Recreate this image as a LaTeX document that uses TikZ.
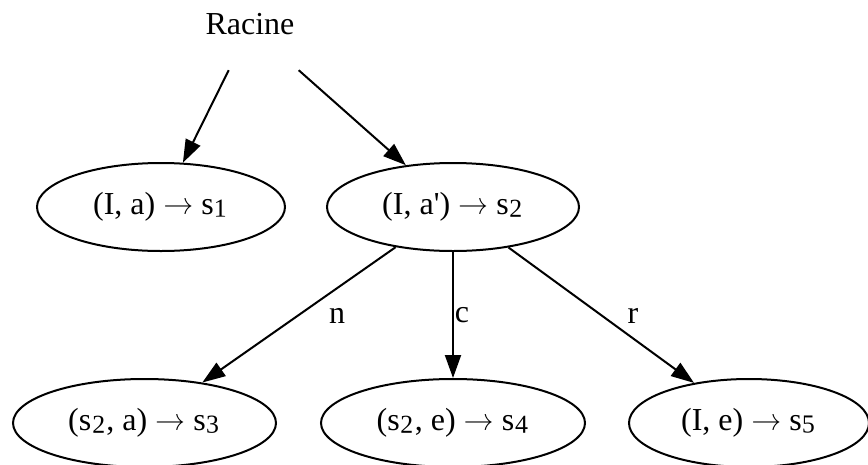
\documentclass[tikz,border=0pt]{standalone}
\usepackage{graphicx}
\usepackage{fontspec}
\setmainfont{Liberation Serif}[Ligatures=TeXOff]
\newfontfamily\lmarrowfont{Latin Modern Roman}
\newcommand{\arr}{{\lmarrowfont →}}
\newcommand{\subd}[1]{\raisebox{0.2em}{\scalebox{1.35}{#1}}}
\usetikzlibrary{shapes.geometric,arrows.meta}
\begin{document}
\begin{tikzpicture}[x=1pt,y=-1pt,
  every node/.style={font=\fontsize{32}{38}\selectfont},
  st/.style={ellipse, draw, line width=2pt, inner sep=0pt, minimum height=88pt},
  conn/.style={line width=2pt, -{Triangle[length=23pt,width=16pt]}},
  lbl/.style={inner sep=0pt}]
\useasboundingbox (0,0) rectangle (868,464);
\clip (0,0) rectangle (868,464);
\node[minimum width=136pt, minimum height=86pt, inner sep=0pt, text depth=6pt] (root) at (250,27) {Racine};
\node[st, minimum width=248pt] (n1) at (161,207) {(I, a) \arr{} s\subd{₁}};
\node[st, minimum width=252pt] (n2) at (453,207) {(I, a') \arr{} s\subd{₂}};
\node[st, minimum width=263pt] (n3) at (144.5,423) {(s\subd{₂}, a) \arr{} s\subd{₃}};
\node[st, minimum width=264pt] (n4) at (453,423) {(s\subd{₂}, e) \arr{} s\subd{₄}};
\node[st, minimum width=240pt] (n5) at (749,423) {(I, e) \arr{} s\subd{₅}};
\draw[conn] (root) -- (n1);
\draw[conn] (root) -- (n2);
\draw[conn] (n2) -- (n3);
\draw[conn] (n2) -- (n4);
\draw[conn] (n2) -- (n5);
\node[lbl] (ln) at (337,315.5) {n};
\node[lbl] (lc) at (462,315.5) {c};
\node[lbl] (lr) at (633,315.5) {r};
\end{tikzpicture}
\end{document}
